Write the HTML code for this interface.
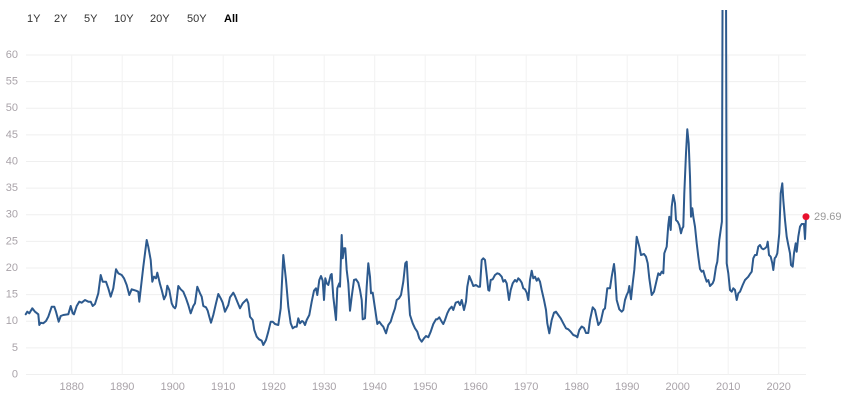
<!DOCTYPE html>
<html>
<head>
<meta charset="utf-8">
<style>
  html,body{margin:0;padding:0;background:#fff;}
  body{width:847px;height:404px;overflow:hidden;}
  svg{display:block;font-family:"Liberation Sans",sans-serif;}
</style>
</head>
<body>
<svg width="847" height="404" viewBox="0 0 847 404" xmlns="http://www.w3.org/2000/svg">
  <defs>
    <clipPath id="plot"><rect x="0" y="10" width="847" height="380"/></clipPath>
  </defs>
  <!-- range buttons -->
  <g font-size="11" fill="#333" dominant-baseline="middle">
    <text x="27" y="19">1Y</text>
    <text x="54" y="19">2Y</text>
    <text x="84" y="19">5Y</text>
    <text x="114" y="19">10Y</text>
    <text x="150" y="19">20Y</text>
    <text x="187" y="19">50Y</text>
    <text x="224" y="19" font-weight="bold" fill="#000">All</text>
  </g>
  <!-- horizontal grid -->
  <g stroke="#efefef" stroke-width="1">
    <line x1="26" x2="806" y1="374.5" y2="374.5"/>
    <line x1="26" x2="806" y1="347.9" y2="347.9"/>
    <line x1="26" x2="806" y1="321.3" y2="321.3"/>
    <line x1="26" x2="806" y1="294.6" y2="294.6"/>
    <line x1="26" x2="806" y1="268" y2="268"/>
    <line x1="26" x2="806" y1="241.4" y2="241.4"/>
    <line x1="26" x2="806" y1="214.8" y2="214.8"/>
    <line x1="26" x2="806" y1="188.1" y2="188.1"/>
    <line x1="26" x2="806" y1="161.5" y2="161.5"/>
    <line x1="26" x2="806" y1="134.9" y2="134.9"/>
    <line x1="26" x2="806" y1="108.3" y2="108.3"/>
    <line x1="26" x2="806" y1="81.6" y2="81.6"/>
    <line x1="26" x2="806" y1="55" y2="55"/>
  </g>
  <!-- vertical grid -->
  <g stroke="#f2f2f2" stroke-width="1">
    <line x1="71.7" x2="71.7" y1="55" y2="374.5"/>
    <line x1="122.2" x2="122.2" y1="55" y2="374.5"/>
    <line x1="172.7" x2="172.7" y1="55" y2="374.5"/>
    <line x1="223.2" x2="223.2" y1="55" y2="374.5"/>
    <line x1="273.7" x2="273.7" y1="55" y2="374.5"/>
    <line x1="324.2" x2="324.2" y1="55" y2="374.5"/>
    <line x1="374.7" x2="374.7" y1="55" y2="374.5"/>
    <line x1="425.2" x2="425.2" y1="55" y2="374.5"/>
    <line x1="475.7" x2="475.7" y1="55" y2="374.5"/>
    <line x1="526.2" x2="526.2" y1="55" y2="374.5"/>
    <line x1="576.7" x2="576.7" y1="55" y2="374.5"/>
    <line x1="627.2" x2="627.2" y1="55" y2="374.5"/>
    <line x1="677.7" x2="677.7" y1="55" y2="374.5"/>
    <line x1="728.2" x2="728.2" y1="55" y2="374.5"/>
    <line x1="778.7" x2="778.7" y1="55" y2="374.5"/>
  </g>
  <!-- y labels -->
  <g font-size="11" fill="#a9a3a9" text-anchor="end" dominant-baseline="middle">
    <text x="18" y="374.5">0</text>
    <text x="18" y="347.9">5</text>
    <text x="18" y="321.3">10</text>
    <text x="18" y="294.6">15</text>
    <text x="18" y="268">20</text>
    <text x="18" y="241.4">25</text>
    <text x="18" y="214.8">30</text>
    <text x="18" y="188.1">35</text>
    <text x="18" y="161.5">40</text>
    <text x="18" y="134.9">45</text>
    <text x="18" y="108.3">50</text>
    <text x="18" y="81.6">55</text>
    <text x="18" y="55">60</text>
  </g>
  <!-- x labels -->
  <g font-size="11" fill="#a9a3a9" text-anchor="middle" dominant-baseline="middle">
    <text x="71.7" y="387">1880</text>
    <text x="122.2" y="387">1890</text>
    <text x="172.7" y="387">1900</text>
    <text x="223.2" y="387">1910</text>
    <text x="273.7" y="387">1920</text>
    <text x="324.2" y="387">1930</text>
    <text x="374.7" y="387">1940</text>
    <text x="425.2" y="387">1950</text>
    <text x="475.7" y="387">1960</text>
    <text x="526.2" y="387">1970</text>
    <text x="576.7" y="387">1980</text>
    <text x="627.2" y="387">1990</text>
    <text x="677.7" y="387">2000</text>
    <text x="728.2" y="387">2010</text>
    <text x="778.7" y="387">2020</text>
  </g>
  <!-- series -->
  <g clip-path="url(#plot)">
    <polyline fill="none" stroke="#2d5a8e" stroke-width="2" stroke-linejoin="round" stroke-linecap="round" points="
25.7,314.3 27.3,311.7 29.3,313.3 32.3,308.3 35,311.7 38.3,314.3 39.3,325 40.7,322.7 43.3,323.3 46,321 48.3,316.7 51.7,306.7 54.3,306.7 56,311.7 58.7,321.7 60.7,316 63.3,315 68.3,314.3 70.7,306 72.7,313.3 74,314.3 76.7,306 79.3,301.7 81.7,302.7 85,300 88.3,301.7 90.7,301.7 92.7,306 95,304 98.3,293.3 100.7,275 102.7,281.7 106,281.7 108.3,288.3 110.7,296.7 113.3,288.3 116,269.3 118.3,273.3 121.7,275 124,278.3 126.7,285 129.3,295 131.7,289.3 136,290.7 138.3,291.7 139.3,301.7 141,286.7 143.3,266.7 145,253.3 146.7,240 148.3,246.7 150.7,260 152.3,281.7 154,276.7 156,278.3 157.3,272.7
160,284 161.7,290 164,299.3 166,295 167.3,285.7 169.3,290 171.7,303.3 173.3,306.7 175,308.3 176,306 178.3,286 180.7,289.3 183.3,291.7 186,298.3 188.3,305 190.7,313.3 193.3,306 195,303.3 197.3,286.7 200,293.3 201.7,296.7 203.3,306 206,307.3 207.7,310.7 209.3,316.7 211,322.7 213.3,315 216,303.3 218.3,294 220.7,298.3 222.7,302.7 225,311.7 228.3,305 230,297.3 231.7,295 233.3,292.7 235,296 237.3,301.7 240,308.3 242.7,303.3 246.7,299.3 248.3,303.3 250,316.7 252.7,320 254.3,330 256.7,336.7 259,339.3 261.7,340.7 263.3,345 266,340 268.3,331.7 270.7,321.7 272.7,321.7 275,324 278.3,325 280.7,308.3 283.3,255 286,280 288.3,306.7 290.7,323.3 292.7,328.3 295,326.7 296.7,326.7 298.3,318.3 300,323.3
302,321 303.3,321.7 305,325 306.7,320 309.3,315 311.7,301.7 314,290.7 316,288.3 317.3,295 319.3,280 321,276 322.7,280.7 324,300 325.3,278.3 326.7,283.3 328.3,285 330.7,275 331.7,274 333.3,296.7 336,320 337.3,288.3 339.3,283.3 340,286.7 341.7,235 342.7,258.3 344,248.3 345.3,248.3 346.7,270 348.3,283.3 350,310.7 351.7,296.7 354,280 356,279.3 358.3,282.7 360,290 361.7,300 362.7,319.3 365,318.3 366.7,286.7 368.3,263.3 370,276.7 371,293.3 372.7,292.7 375,308.3 377.3,324 379.3,321.7 381.7,325 383.3,326.7 386,333.3 388.3,325 390.7,321.7 392.7,315 395,308.3 396.7,300 399,298.3 401,295 403.3,281.7 405.3,263.3 406.7,261.7 408.3,290 410,315 412.7,323.3 415,328.3 417.3,331.7 419.3,338.3 421.7,341.7 424,338.3 426,336 428.3,337.3 430.7,331.7 433.3,324 436,319.3 437.3,319.3 439.3,317.3
441.7,321.7 443.3,324 445,320 447.3,313.3 449.3,309.3 451.7,306.7 453.3,310 455.7,302.7 458.3,301.7 460,305 461.7,300 464,310 466,301.7 467.3,286.7 469.3,276 471.7,281.7 473.3,286 476,285 478.3,286.7 480,286.7 481.7,260 483.3,258.3 485,260 486.7,275 488.3,290 489.3,290.7 490.7,280 492.7,279.3 495,275 497.3,273.3 499.3,274 501.7,276.7 503.3,281.7 505,280 506.7,283.3 509,300 510.7,290 512.7,283.3 515,280 516.7,281.7 518.3,278.3 520,280 521.7,282.7 523.3,288.3 525,289.3 526.7,292.7 528.3,300 530,280 531.7,270.7 533.3,278.3 535,276.7 536.7,280.7 538.3,278.3 540,281.7 541.7,290 544,300 546,310 547.3,323.3 549.3,333.3 551.7,320 554,312.7 556,311.7 558.3,315 560.7,318.3 563.3,323.3 566,328.3 568.3,329.3 570.7,331.7 573.3,335 576,336 577.3,337.3 579.3,330
581.7,326.5 584,328 586,333 588.3,333 590,320 592.7,307.3 595,310 598.3,325 600.7,321.7 603.3,310 605,308.3 607.3,288.3 610,288.3 611.7,276.7 614,264 615,273.3 616.7,300 619.3,309.3 621.7,311.7 623.3,310 625,300 626.7,295 628.3,291.7 629.3,286 631,299.3 632.7,283.3 634.3,270 636.7,236.7 639.3,246.7 641,255 644,254 646,256.7 647.7,263.3 649.3,278.3 651.7,295 654,291.7 656.7,280 658.3,273.3 660,275 661.7,271.7 663.3,273.3 664.3,253.3 666.7,246.7 668.3,225 669.3,216.7 670.7,230 671.7,206.7 673.3,195 675,203.3 676,220 677.7,221.7 679.3,225 681,233.3 682.3,228.3 683.3,226.7 684.3,193.3 686,153.3 687.3,129.3 688.7,143.3 690,176.7 691,216.7 692.3,208.3 693.3,216.7 695,226.7 696.7,243.3 698.3,256.7 700,269
701.7,271.7 703.3,270.7 705,276.7 706.7,281.7 708.3,280 710,286 712.7,283.3 714,280 716,266.7 717.3,261.7 719.3,240 720.7,230 721.9,221.7 722.6,-20 726,-20 726.7,263.3 728.3,273.3 730,290 731.7,291.7 733.3,288.3 735,290 736.7,300 738.3,293.3 740,291.7 742.7,285 745,280 746.7,278.3 748.3,276.7 750,274 751.7,271.7 753.3,258.3 755,255 756.7,255 758.3,246.7 760,245 761.7,248.3 763.3,249.3 765,248.3 766.7,246.7 767.7,241.7 769,255 770.7,256.7 772.3,263.3 773.3,270 774.7,258.3 776,256.7 777.3,253.3 778.3,243.3 779.3,233.3 780.7,193.3 782.3,183.3 783.3,200 785,220 786.7,236.7 788.3,245 790,253.3 791,265 792.7,266.7 794,253.3 795.7,243.3 796.7,251.7 798.3,236.7 800,226.7 801.7,224 804,224 805,239 806,216.7"/>
  </g>
  <circle cx="806" cy="216.7" r="3.5" fill="#e8112d"/>
  <text x="814" y="217" font-size="11" fill="#999" dominant-baseline="middle">29.69</text>
</svg>
</body>
</html>
